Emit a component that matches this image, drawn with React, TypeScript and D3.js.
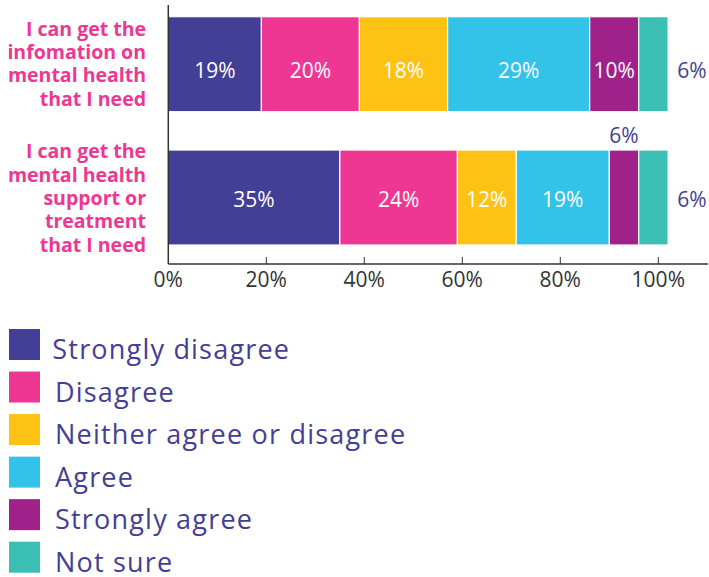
import React from "react";
import * as d3 from "d3";

const categories = [
  ["I can get the", "infomation on", "mental health", "that I need"],
  ["I can get the", "mental health", "support or", "treatment", "that I need"],
];
const seriesNames = [
  "Strongly disagree",
  "Disagree",
  "Neither agree or disagree",
  "Agree",
  "Strongly agree",
  "Not sure",
];
const row1Values = [19, 20, 18, 29, 10, 6];
const row2Values = [35, 24, 12, 19, 6, 6];
const xTicks = [0, 20, 40, 60, 80, 100];
// which segments get their label outside: "right" or "above"
const row1Outside = [null, null, null, null, null, "right"];
const row2Outside = [null, null, null, null, "above", "right"];

const colors = ["#433e96", "#ee3792", "#fdc214", "#33c3e9", "#a0218a", "#3bbfb5"];
const FONT = "'Open Sans', sans-serif";

export default function App() {
  const W = 709;
  const H = 577;
  const x = d3.scaleLinear().domain([0, 100]).range([168.3, 658.3]);
  const rows = [row1Values, row2Values];
  const outside = [row1Outside, row2Outside];
  const y = d3
    .scaleBand<number>()
    .domain([0, 1])
    .range([16.7, 245])
    .paddingInner(0.2875)
    .paddingOuter(0);
  const rowDy = [14, 9];
  const axisY = 264;

  const legendY = d3
    .scaleLinear()
    .domain([0, seriesNames.length - 1])
    .range([329, 541.7]);

  return (
    <svg width={W} height={H} style={{ position: "absolute", left: 0, top: 0 }}>
      <rect width={W} height={H} fill="#fff" />
      {rows.map((vals, ri) => {
        const cum = d3.cumsum(vals);
        const by = y(ri)!;
        const bh = y.bandwidth();
        const cy = by + bh / 2;
        return (
          <g key={ri}>
            {vals.map((v, i) => {
              const s = i === 0 ? 0 : cum[i - 1];
              const x0 = x(s);
              const x1 = x(s + v);
              return (
                <rect
                  key={i}
                  x={x0}
                  y={by}
                  width={x1 - x0}
                  height={bh}
                  fill={colors[i]}
                  stroke="#fff"
                  strokeWidth={1.2}
                />
              );
            })}
            {vals.map((v, i) => {
              const s = i === 0 ? 0 : cum[i - 1];
              const o = outside[ri][i];
              let tx = x(s + v / 2);
              let ty = cy + rowDy[ri];
              let fill = "#fff";
              if (o === "right") {
                tx = 692;
                fill = "#433e96";
              } else if (o === "above") {
                ty = by - 6.7;
                fill = "#433e96";
              }
              return (
                <text
                  key={"t" + i}
                  x={tx}
                  y={ty}
                  textAnchor="middle"
                  fontFamily={FONT}
                  fontSize={21}
                  fill={fill}
                >
                  {v}%
                </text>
              );
            })}
            <text
              x={146}
              y={ri === 0 ? 35.7 : 158.3}
              textAnchor="end"
              fontFamily={FONT}
              fontWeight={700}
              fontSize={19.5}
              fill="#ee3792"
            >
              {categories[ri].map((line, li) => (
                <tspan key={li} x={146} dy={li === 0 ? 0 : 23.3}>
                  {line}
                </tspan>
              ))}
            </text>
          </g>
        );
      })}
      {/* axes */}
      <line x1={168.3} x2={168.3} y1={5} y2={axisY} stroke="#333" strokeWidth={1.5} />
      <line x1={168.3} x2={708} y1={axisY} y2={axisY} stroke="#333" strokeWidth={1.5} />
      {xTicks.map((t) => (
        <g key={t}>
          {t > 0 && (
            <line x1={x(t)} x2={x(t)} y1={axisY - 7} y2={axisY} stroke="#333" strokeWidth={1} />
          )}
          <text
            x={x(t)}
            y={287.3}
            textAnchor="middle"
            fontFamily={FONT}
            fontSize={21}
            fill="#333"
          >
            {t}%
          </text>
        </g>
      ))}
      {/* legend */}
      {seriesNames.map((n, i) => (
        <g key={n}>
          <rect x={9} y={legendY(i)} width={31} height={31} fill={colors[i]} />
          <text
            x={i === 0 ? 52.3 : 55}
            y={legendY(i) + 30}
            fontFamily={FONT}
            fontSize={27}
            letterSpacing={1.2}
            fill="#433e96"
          >
            {n}
          </text>
        </g>
      ))}
    </svg>
  );
}
